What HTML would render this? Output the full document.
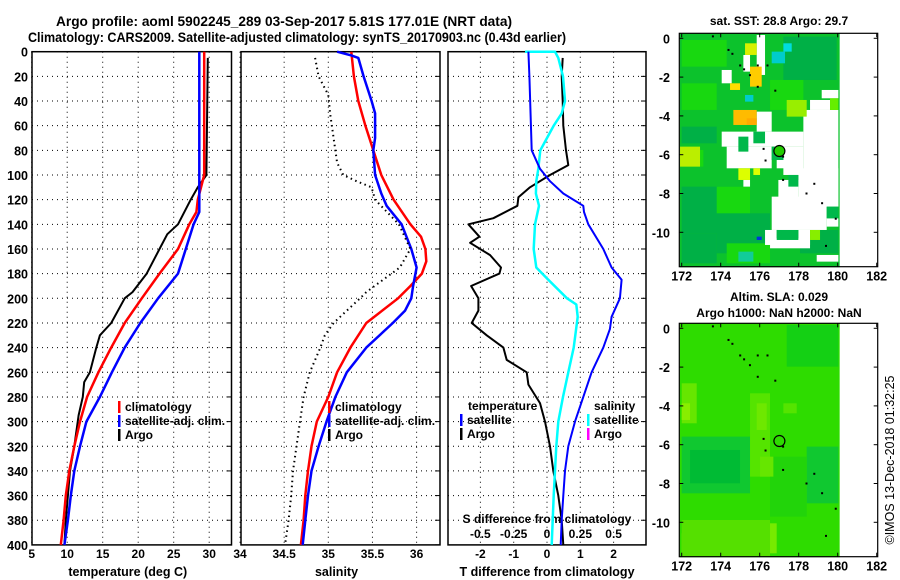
<!DOCTYPE html>
<html><head><meta charset="utf-8">
<style>
html,body{margin:0;padding:0;background:#fff;}
svg{display:block;font-family:"Liberation Sans",Arial,sans-serif;font-weight:bold;}
</style></head>
<body>
<svg id="fig" width="900" height="580" viewBox="0 0 900 580" xmlns="http://www.w3.org/2000/svg">
<text x="284" y="26" text-anchor="middle" font-size="14" textLength="456" lengthAdjust="spacingAndGlyphs">Argo profile: aoml 5902245_289 03-Sep-2017 5.81S 177.01E (NRT data)</text>
<text x="297" y="42" text-anchor="middle" font-size="14" textLength="538" lengthAdjust="spacingAndGlyphs">Climatology: CARS2009. Satellite-adjusted climatology: synTS_20170903.nc (0.43d earlier)</text>
<g id="g"></g>
</svg>
<script>
// ---------- data ----------
const depthTicks=[0,20,40,60,80,100,120,140,160,180,200,220,240,260,280,300,320,340,360,380,400];
const tempTicks=[5,10,15,20,25,30];
const salTicks=[34,34.5,35,35.5,36];
const tdiffTicks=[-2,-1,0,1,2];
const sdiffTicks=[-0.5,-0.25,0,0.25,0.5];
const sdiffLabels=["-0.5","-0.25","0","0.25","0.5"];
// temperature panel
const tClimD=[0,100,120,130,140,160,180,200,220,240,260,280,300,320,340,360,380,400];
const tClimV=[29.3,29.3,28.4,28.2,27.2,25.6,23.0,20.5,18.1,16.2,14.4,12.8,11.8,11.0,10.3,9.8,9.5,9.1];
const tSatD=[0,105,130,140,160,180,200,220,240,260,280,300,320,340,360,380,400];
const tSatV=[28.6,28.6,28.6,27.8,26.7,25.6,22.8,20.3,18.1,16.3,14.6,12.7,11.8,11.0,10.5,10.1,9.6];
const tArgoD=[5,100,110,120,140,148,160,180,195,200,220,230,240,260,268,280,295,320,340,360,380,400];
const tArgoV=[29.8,29.6,28.4,27.4,25.6,24.1,23.0,21.2,19.2,18.1,16.2,14.6,14.1,13.2,12.4,12.2,11.6,11.0,10.4,10.1,9.8,9.6];
// salinity panel
const sClimD=[0,20,40,60,80,100,120,140,150,160,170,180,190,200,220,240,260,280,300,320,340,360,380,400];
const sClimV=[35.26,35.29,35.34,35.42,35.51,35.60,35.74,35.93,36.05,36.10,36.11,36.06,35.93,35.79,35.43,35.25,35.10,35.0,34.87,34.81,34.77,34.74,34.72,34.69];
const sSatD=[0,3,5,20,40,50,70,80,100,115,125,140,160,175,190,200,210,220,240,260,280,300,320,340,360,380,400];
const sSatV=[35.10,35.26,35.34,35.40,35.49,35.53,35.53,35.51,35.53,35.60,35.66,35.83,35.94,36.0,35.96,35.94,35.87,35.73,35.43,35.21,35.08,34.98,34.89,34.81,34.77,34.74,34.71];
const sArgoD=[5,20,35,50,70,90,100,105,110,120,140,160,175,185,195,200,210,220,230,240,260,280,300,320,340,360,380,400];
const sArgoV=[34.85,34.89,35.0,35.02,35.06,35.10,35.17,35.32,35.49,35.53,35.80,35.93,35.81,35.62,35.43,35.36,35.21,35.06,34.96,34.91,34.79,34.72,34.68,34.64,34.60,34.58,34.55,34.51];
// difference panel
const dArgoD=[5,20,40,60,80,92,100,110,118,125,135,140,150,155,165,175,180,190,200,210,220,230,240,250,260,270,285,300,320,340,360,380,400];
const dArgoV=[0.47,0.44,0.47,0.49,0.57,0.64,0.09,-0.51,-0.86,-0.89,-1.61,-2.36,-2.03,-2.31,-1.71,-1.38,-1.43,-2.28,-2.06,-2.06,-2.26,-1.81,-1.31,-1.21,-0.61,-0.56,-0.21,-0.06,0.09,0.19,0.34,0.44,0.49];
const dTSatD=[0,20,80,95,105,115,125,130,140,160,175,185,200,215,225,240,260,280,300,320,340,360,380,400];
const dTSatV=[-0.56,-0.53,-0.46,-0.21,0.09,0.49,1.09,1.11,1.24,1.69,1.94,2.24,2.19,1.94,1.89,1.69,1.34,1.09,0.84,0.64,0.54,0.49,0.44,0.41];
const dSSatD=[0,0,5,20,40,50,60,70,80,95,105,115,125,140,160,175,185,200,205,215,240,260,280,300,320,340,360,380,400];
const dSSatV=[-0.165,0.06,0.085,0.12,0.135,0.11,0.05,0,-0.05,-0.065,-0.08,-0.083,-0.06,-0.09,-0.10,-0.08,0.01,0.15,0.22,0.23,0.20,0.16,0.12,0.085,0.07,0.06,0.05,0.043,0.035];
// maps
const mapLonTicks=[172,174,176,178,180,182];
const mapLatTicks=[0,-2,-4,-6,-8,-10];
const argoLon=177.01, argoLat=-5.81;
const coastLon=[173.6,174.4,174.6,175.0,175.2,175.5,175.9,176.4,175.9,176.8,176.2,176.3,177.2,177.2,178.4,178.8,179.2,179.9,179.4];
const coastLat=[0.1,-0.6,-0.8,-1.4,-1.6,-1.9,-1.4,-1.4,-2.5,-2.7,-5.7,-6.3,-6.1,-7.3,-8.0,-7.5,-8.5,-9.3,-10.7];

// ---------- scales ----------
const yD=d=>51.7+d*1.233;
const xT=t=>31.7+(t-5)*7.1;
const xS=s=>240+(s-34)*88.3;
const xTd=t=>547+t*33.3;
const xSd=s=>547+s*133.3;
const NS="http://www.w3.org/2000/svg";
const G=document.getElementById('g');
function el(tag,attrs,parent){const e=document.createElementNS(NS,tag);for(const k in attrs)e.setAttribute(k,attrs[k]);(parent||G).appendChild(e);return e;}
function txt(x,y,s,size,anchor,parent){const t=el('text',{x:x,y:y,'font-size':size,'text-anchor':anchor||'middle'},parent);t.textContent=s;return t;}

const panels=[{x0:32,x1:231.5,ticks:tempTicks,f:xT,lab:tempTicks.map(String),title:'temperature (deg C)',name:'temperature-panel'},
 {x0:241,x1:440,ticks:salTicks,f:xS,lab:["34","34.5","35","35.5","36"],title:'salinity',name:'salinity-panel'},
 {x0:448,x1:646,ticks:tdiffTicks,f:xTd,lab:tdiffTicks.map(String),title:'T difference from climatology',name:'difference-panel'}];
const Y0=yD(0),Y1=yD(400);
panels.forEach((p,i)=>{
  const g=el('g',{});
  
  
  p.g=g;
  depthTicks.forEach(d=>{ if(d>0&&d<400) el('line',{x1:p.x0,x2:p.x1,y1:yD(d),y2:yD(d),stroke:'#000','stroke-width':1,'stroke-dasharray':'1,4'},g);
    el('line',{x1:p.x1-5,x2:p.x1,y1:yD(d),y2:yD(d),stroke:'#000','stroke-width':1},g);});
  p.ticks.forEach((t,j)=>{const x=p.f(t); el('line',{x1:x,x2:x,y1:Y0,y2:Y1,stroke:'#000','stroke-width':1,'stroke-dasharray':'1,4'},g);
    const tl=txt(x,558,p.lab[j],12,'middle',g);
    
    });
  const at=txt((p.x0+p.x1)/2+(i==2?0:-4),576,p.title,12.5,'middle',g);
  
  
});
// y tick labels
depthTicks.forEach(d=>{const t=txt(28,yD(d)+5,String(d),12.5,'end');
  
  });
// S difference axis
sdiffTicks.forEach((s,j)=>{const t=txt(xSd(s),538,sdiffLabels[j],12,'middle');
  
  });
const sdt=txt(547,523,'S difference from climatology',12,'middle');



function line(D,V,fx,color,w,dash,name,parent){
  const pts=D.map((d,i)=>fx(V[i]).toFixed(1)+','+yD(d).toFixed(1)).join(' ');
  const pl=el('polyline',{points:pts,fill:'none',stroke:color,'stroke-width':w,'stroke-linejoin':'round'},parent);
  if(dash)pl.setAttribute('stroke-dasharray',dash);
  
  
}
line(tArgoD,tArgoV,xT,'#000',2,null,'temperature-argo-line');
line(tClimD,tClimV,xT,'#f00',2.5,null,'temperature-climatology-line');
line(tSatD,tSatV,xT,'#00f',2.5,null,'temperature-satellite-line');
line(sClimD,sClimV,xS,'#f00',2.5,null,'salinity-climatology-line');
line(sSatD,sSatV,xS,'#00f',2.5,null,'salinity-satellite-line');
line(sArgoD,sArgoV,xS,'#000',2,'1.5,3.5','salinity-argo-line');
line(dArgoD,dArgoV,xTd,'#000',2,null,'t-diff-argo-line');
line(dSSatD,dSSatV,xSd,'#0ff',2.5,null,'s-diff-satellite-line');
line(dTSatD,dTSatV,xTd,'#00f',2,null,'t-diff-satellite-line');

// frames
panels.forEach(p=>{el('rect',{x:p.x0,y:Y0,width:p.x1-p.x0,height:Y1-Y0,fill:'none',stroke:'#000','stroke-width':1.5},p.g);});

// legends
function legend(xb,items,y0){items.forEach((it,i)=>{const y=y0+i*14;
  el('rect',{x:xb,y:y-10,width:2.5,height:12,fill:it[1]});
  const t=txt(xb+7,y,it[0],12,'start');
  
  });}
legend(118,[['climatology','#f00'],['satellite-adj. clim.','#00f'],['Argo','#000']],411);
legend(328,[['climatology','#f00'],['satellite-adj. clim.','#00f'],['Argo','#000']],411);
const lt=txt(468,410,'temperature',12,'start');


const ls=txt(594,410,'salinity',12,'start');


legend(460,[['satellite','#00f'],['Argo','#000']],424);
legend(587,[['satellite','#0ff'],['Argo','#f0f']],424);

// ---------- maps ----------
function mkMap(top,name){
  const m={x:lon=>681.7+(lon-172)*19.5,y:lat=>top+(-lat)*19.4,top:top};
  m.g=el('g',{});
  
  
  return m;
}
function zr(m,r,fill){
  const x1=m.x(r[0]),x2=m.x(r[2]),y1=m.y(r[1]),y2=m.y(r[3]);
  el('rect',{x:Math.min(x1,x2),y:Math.min(y1,y2),width:Math.abs(x2-x1),height:Math.abs(y2-y1),fill:fill},m.g);
}
const zl=z=>172+(z-95)/58.5, za=z=>-(z-115)/58.2;
function zz(a){return [zl(a[0]),za(a[1]),zl(a[2]),za(a[3])];}

const m1=mkMap(38.3,'sst-map');
zr(m1,[171.9,0.25,180.1,-11.8],'#0cc22c');
const sstDark=[[95,380,200,430],[95,560,300,700],[400,110,560,240],[200,640,360,760],[450,690,565,760],[95,700,200,790]];
sstDark.forEach(a=>zr(m1,zz(a),'#00b046'));
const sstBright=[[95,120,230,200],[95,250,200,330],[200,560,300,640],[360,240,460,330],[95,450,160,500],[230,730,360,790]];
sstBright.forEach(a=>zr(m1,zz(a),'#18d810'));
const sstWhite=[[320,105,345,225],[280,165,300,215],[215,210,245,250],[515,270,565,295],[480,300,540,330],[460,330,565,620],[320,335,365,395],[215,395,460,440],[230,440,365,505],[400,440,460,525],[380,480,415,505],[445,505,565,620],[385,540,445,690],[365,590,530,690],[530,655,565,680],[280,540,300,560],[345,690,380,735],[445,690,480,735],[360,715,480,745],[500,765,565,785]];
sstWhite.forEach(a=>zr(m1,zz(a),'#fff'));
const sstGreen=[[265,410,295,455],[310,395,345,430],[365,440,400,480],[415,525,445,560],[530,620,565,655],[380,690,445,720]];
sstGreen.forEach(a=>zr(m1,zz(a),'#00b84a'));
const sstPatch=[[[285,130,320,165],'#d8f000'],[[300,200,335,260],'#ffcc00'],[[240,250,270,270],'#ffdd00'],[[250,330,320,375],'#ffbb00'],[[290,355,320,375],'#ffaa00'],[[265,505,300,540],'#ddff00'],[[310,505,330,525],'#ddff00'],[[90,440,150,500],'#bbee00'],[[410,300,470,350],'#99ee00'],[[540,295,565,330],'#66ee00'],[[365,155,405,190],'#00cccc'],[[400,130,425,155],'#00dddd'],[[285,285,310,305],'#00cccc'],[[265,755,310,785],'#11cc99'],[[320,710,335,720],'#0033dd'],[[480,690,510,720],'#88ee00']];
sstPatch.forEach(p=>zr(m1,zz(p[0]),p[1]));

const m2=mkMap(328.3,'sla-map');
zr(m2,[171.9,0.25,180.1,-11.8],'#2edc00');
const slaDark=[[[95,440,300,610],'#10c830'],[[120,480,270,580],'#00bb34'],[[470,470,565,640],'#10c830'],[[410,105,565,230],'#14d014'],[[360,500,470,680],'#22d40a']];
slaDark.forEach(p=>zr(m2,zz(p[0]),p[1]));
const slaLight=[[[95,280,140,400],'#66e600'],[[95,340,120,390],'#88ee00'],[[300,310,360,560],'#55e400'],[[320,340,350,420],'#6ee800'],[[400,340,440,370],'#55e400'],[[95,730,180,790],'#88ee00'],[[260,700,380,790],'#77ea00'],[[95,690,360,800],'#55e000'],[[330,500,370,560],'#66e600']];
slaLight.forEach(p=>zr(m2,zz(p[0]),p[1]));

[m1,m2].forEach((m,k)=>{
  coastLon.forEach((lo,i)=>{el('rect',{x:m.x(lo)-1,y:m.y(coastLat[i])-1,width:2,height:2,fill:'#000'},m.g);});
  const c=el('circle',{cx:m.x(argoLon),cy:m.y(argoLat),r:5.5,fill:k==0?'#22cc00':'none',stroke:'#000','stroke-width':1.2},m.g);
  
  
  const fy0=m.top-5, fy1=m.top+228.4;
  el('rect',{x:679.3,y:fy0,width:198.4,height:fy1-fy0,fill:'none',stroke:'#000','stroke-width':1.2},m.g);
  mapLonTicks.forEach(lo=>{const x=m.x(lo);
    el('line',{x1:x,x2:x,y1:fy0,y2:fy0+4,stroke:'#000'},m.g);el('line',{x1:x,x2:x,y1:fy1-4,y2:fy1,stroke:'#000'},m.g);
    const t=txt(x,fy1+14,String(lo),12.5,'middle',m.g);
    
    });
  mapLatTicks.forEach(la=>{const y=m.y(la);
    el('line',{x1:679.3,x2:683.3,y1:y,y2:y,stroke:'#000'},m.g);el('line',{x1:873.7,x2:877.7,y1:y,y2:y,stroke:'#000'},m.g);
    const t=txt(670,y+5,String(la),12.5,'end',m.g);
    
    });
});
const mt1=txt(779,25,'sat. SST: 28.8 Argo: 29.7',12,'middle');


const mt2=txt(779,301,'Altim. SLA: 0.029',12,'middle');


const mt3=txt(779,317,'Argo h1000: NaN h2000: NaN',12,'middle');


const cr=txt(0,0,'©IMOS 13-Dec-2018 01:32:25',12.5,'middle');
cr.setAttribute('transform','translate(894,460) rotate(-90)');
cr.setAttribute('font-weight','normal');


</script>
</body></html>
